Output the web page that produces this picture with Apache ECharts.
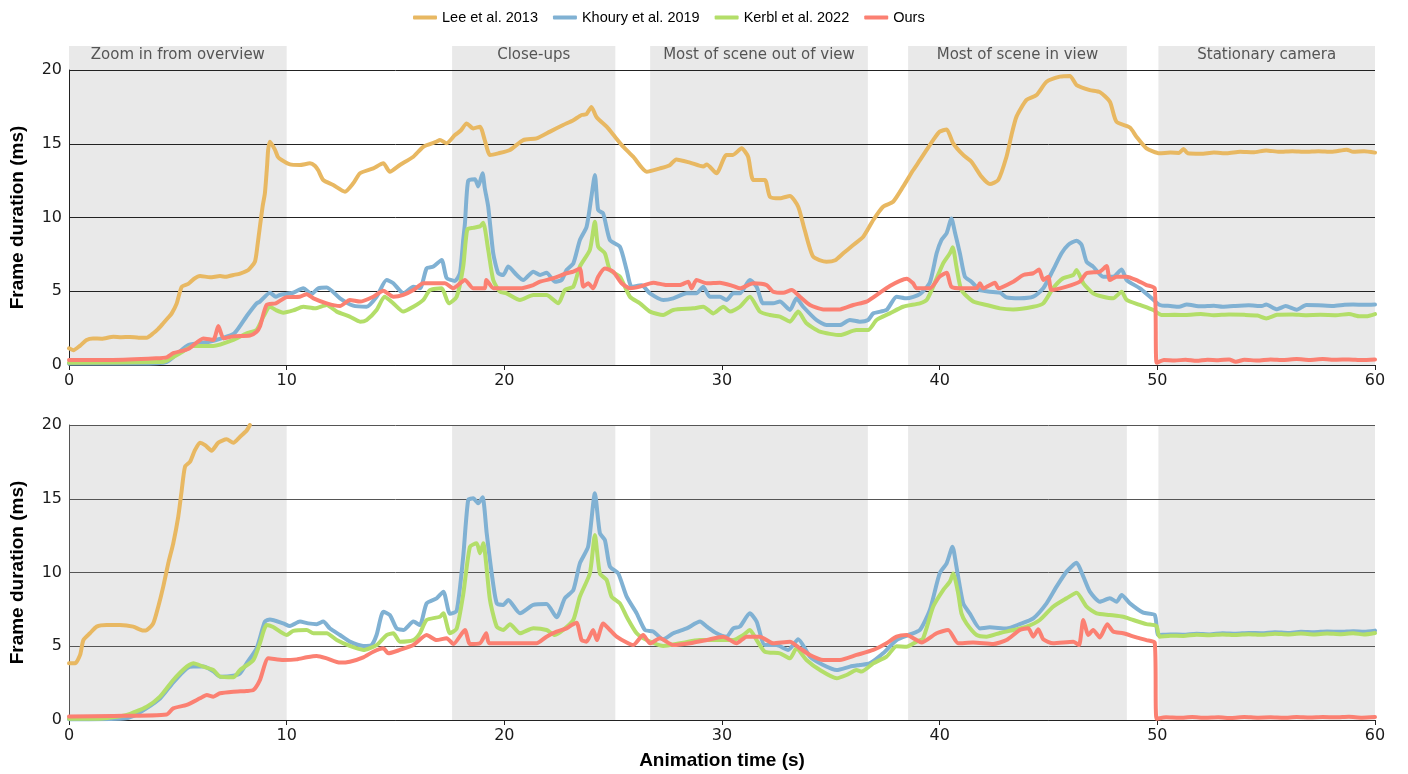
<!DOCTYPE html>
<html><head><meta charset="utf-8">
<script src="https://cdn.jsdelivr.net/npm/echarts@6/dist/echarts.min.js"></script>
<style>html,body{margin:0;padding:0;background:#fff}#c{width:1408px;height:774px}</style>
</head><body><div id="c"></div>
<script>
const seriesNames = ['Lee et al. 2013', 'Khoury et al. 2019', 'Kerbl et al. 2022', 'Ours'];
const seriesColors = ['#e8b862', '#80b1d3', '#b3de69', '#fb8072'];

const regionStarts = [0, 17.6, 26.7, 38.55, 50.05];
const regionEnds = [10, 25.1, 36.7, 48.6, 60];
const regionLabels = ['Zoom in from overview', 'Close-ups', 'Most of scene out of view', 'Most of scene in view', 'Stationary camera'];

const xTicks = [0, 10, 20, 30, 40, 50, 60];
const yTicks = [0, 5, 10, 15, 20];

// ---------- Top panel ----------
const leeTop = [[0,1.13],[0.2,1.0],[0.5,1.3],[0.81,1.7],[1.1,1.8],[1.5,1.78],[2.04,1.92],[2.4,1.88],[2.8,1.9],[3.2,1.85],[3.57,1.85],[3.87,2.15],[4.1,2.45],[4.33,2.83],[4.55,3.2],[4.72,3.5],[4.95,4.18],[5.18,5.3],[5.48,5.5],[5.75,5.85],[6.02,6.03],[6.48,5.95],[6.94,6.03],[7.2,5.98],[7.55,6.1],[7.86,6.2],[8.24,6.44],[8.54,7.0],[8.65,8.0],[8.77,9.38],[8.9,10.8],[9.0,11.64],[9.1,13.5],[9.15,14.6],[9.23,15.14],[9.46,14.6],[9.6,14.1],[9.77,13.9],[10.15,13.6],[10.6,13.56],[11.07,13.67],[11.3,13.5],[11.45,13.2],[11.68,12.54],[12.14,12.2],[12.68,11.75],[13.06,12.32],[13.37,13.0],[13.98,13.33],[14.44,13.67],[14.74,13.1],[15.2,13.56],[15.82,14.12],[16.28,14.8],[16.89,15.14],[17.04,15.25],[17.35,15.03],[17.73,15.59],[18.0,15.9],[18.27,16.38],[18.57,16.04],[18.88,16.16],[19.1,15.25],[19.34,14.24],[19.72,14.35],[20.26,14.58],[20.87,15.25],[21.48,15.36],[22.1,15.82],[22.7,16.27],[23.17,16.6],[23.55,16.95],[23.77,17.0],[24.0,17.5],[24.24,16.8],[24.7,16.16],[25.08,15.48],[25.46,14.8],[25.92,14.12],[26.54,13.1],[27.15,13.33],[27.6,13.55],[27.9,13.94],[28.53,13.72],[29.14,13.45],[29.3,13.6],[29.75,13.0],[30.2,14.24],[30.5,14.24],[30.9,14.69],[31.2,14.12],[31.44,12.54],[31.97,12.54],[32.2,11.41],[32.66,11.3],[33.12,11.46],[33.5,10.73],[33.8,9.15],[34.19,7.34],[34.8,7.0],[35.2,7.1],[35.57,7.57],[36.0,8.1],[36.49,8.7],[36.95,9.83],[37.4,10.73],[37.86,11.07],[38.32,12.09],[38.78,13.2],[39.1,13.9],[39.4,14.58],[39.7,15.25],[40.0,15.82],[40.32,15.97],[40.62,15.03],[41.08,14.24],[41.46,13.78],[41.92,12.77],[42.31,12.27],[42.69,12.54],[43.07,14.12],[43.3,15.6],[43.53,16.84],[43.99,17.97],[44.45,18.3],[44.91,19.2],[45.52,19.55],[45.98,19.6],[46.29,18.98],[46.9,18.64],[47.36,18.5],[47.82,17.85],[48.12,16.5],[48.74,16.1],[49.04,15.48],[49.5,14.69],[50.1,14.35],[50.6,14.4],[51.0,14.38],[51.2,14.65],[51.4,14.35],[52.0,14.32],[52.6,14.4],[53.2,14.35],[53.8,14.45],[54.4,14.42],[55.0,14.55],[55.6,14.45],[56.2,14.5],[56.8,14.45],[57.4,14.5],[58.0,14.45],[58.7,14.6],[59.0,14.45],[59.5,14.5],[60,14.4]];

const khouryTop = [[0,0.1],[2,0.1],[4,0.12],[4.49,0.2],[5.0,0.8],[5.5,1.36],[6.45,1.58],[7.0,1.8],[7.6,2.15],[8.2,3.39],[8.62,4.18],[8.77,4.3],[9.23,4.9],[9.5,4.63],[9.69,4.75],[10.3,4.9],[10.76,5.2],[11.15,4.82],[11.45,5.2],[11.84,5.26],[12.45,4.52],[13.06,4.02],[13.67,3.95],[14.13,4.63],[14.59,5.76],[14.9,5.54],[15.36,4.86],[15.82,5.31],[16.13,5.2],[16.43,6.55],[16.74,6.67],[17.12,7.12],[17.35,5.9],[17.73,5.7],[17.96,6.22],[18.11,8.47],[18.19,9.6],[18.34,12.5],[18.65,12.6],[18.8,12.1],[19.0,13.0],[19.1,12.0],[19.26,10.73],[19.49,7.57],[19.72,6.22],[19.95,6.1],[20.18,6.67],[20.57,6.1],[20.87,5.76],[21.33,6.33],[21.64,6.1],[21.94,6.26],[22.32,5.65],[22.63,5.76],[22.86,6.44],[23.17,6.89],[23.47,8.47],[23.78,9.38],[24.0,11.41],[24.16,12.88],[24.31,10.5],[24.54,10.28],[24.85,8.47],[25.31,8.02],[25.62,6.44],[25.85,5.31],[26.3,5.4],[26.69,4.86],[27.3,4.41],[27.76,4.52],[28.38,4.86],[28.83,4.86],[29.14,5.31],[29.44,4.63],[29.9,4.63],[30.21,4.41],[30.52,4.86],[30.82,4.86],[31.28,5.76],[31.59,5.31],[31.89,4.18],[32.35,4.18],[32.66,4.3],[33.12,3.73],[33.42,4.52],[33.73,3.95],[34.34,3.05],[34.8,2.71],[35.42,2.71],[35.87,3.05],[36.33,2.94],[36.71,3.05],[36.95,3.5],[37.56,3.73],[38.02,4.63],[38.48,4.52],[39.09,4.8],[39.55,5.6],[39.86,7.57],[40.08,8.47],[40.32,8.93],[40.54,9.94],[40.7,9.0],[40.93,7.57],[41.16,5.99],[41.46,5.65],[41.85,5.08],[42.3,4.97],[42.77,4.9],[43.07,4.58],[43.68,4.52],[44.3,4.63],[44.76,5.2],[45.21,6.44],[45.6,7.57],[45.9,8.14],[46.29,8.43],[46.52,8.14],[46.75,7.0],[47.05,6.67],[47.51,5.99],[47.97,5.99],[48.36,6.48],[48.59,5.76],[49.2,5.2],[49.66,4.63],[50.11,4.07],[50.6,4.0],[51.0,3.95],[51.35,4.1],[52.0,3.98],[52.6,4.02],[53.0,3.95],[53.5,4.0],[54.2,4.05],[54.8,4.0],[55.0,4.1],[55.5,3.78],[55.9,4.0],[56.4,3.75],[56.84,4.07],[57.4,4.05],[58.07,4.0],[58.6,4.08],[59.0,4.1],[59.5,4.08],[60,4.1]];

const kerblTop = [[0,0.16],[4.2,0.2],[4.49,0.3],[5.1,0.8],[5.71,1.29],[6.63,1.29],[7.55,1.7],[8.16,2.15],[8.62,2.37],[8.93,3.28],[9.23,3.95],[9.5,3.73],[9.84,3.55],[10.3,3.7],[10.76,3.95],[11.3,3.84],[11.84,4.07],[12.3,3.62],[12.9,3.28],[13.37,2.94],[13.67,3.05],[14.13,3.73],[14.5,4.63],[14.9,4.18],[15.36,3.62],[15.82,3.95],[16.28,4.41],[16.58,5.08],[17.12,5.2],[17.45,4.18],[17.81,4.63],[18.11,6.67],[18.3,9.2],[18.57,9.3],[18.88,9.4],[19.03,9.65],[19.26,7.8],[19.49,5.76],[19.8,4.97],[20.1,4.86],[20.72,4.41],[21.33,4.75],[21.94,4.75],[22.48,4.18],[22.78,5.08],[23.17,5.31],[23.47,6.67],[23.93,7.8],[24.16,9.72],[24.31,8.02],[24.62,7.57],[24.85,6.44],[25.31,5.99],[25.77,4.63],[26.23,4.18],[26.69,3.62],[27.3,3.39],[27.76,3.73],[28.68,3.84],[29.14,3.95],[29.6,3.5],[30.06,3.95],[30.37,3.62],[30.82,3.95],[31.28,4.63],[31.74,3.62],[32.2,3.39],[32.66,3.28],[33.12,2.94],[33.5,3.62],[33.88,2.83],[34.5,2.26],[35.42,2.03],[36.17,2.37],[36.71,2.37],[37.1,3.05],[37.71,3.5],[38.32,3.95],[39.09,4.18],[39.4,4.4],[39.7,5.31],[40.16,6.89],[40.47,7.57],[40.6,7.98],[40.77,6.67],[41.0,5.08],[41.54,4.3],[42.15,4.07],[42.77,3.84],[43.38,3.77],[44.3,3.95],[44.76,4.18],[45.21,5.2],[45.67,5.88],[46.14,6.1],[46.29,6.44],[46.6,5.54],[47.05,4.86],[47.51,4.63],[47.97,4.52],[48.36,4.97],[48.59,4.41],[49.2,4.07],[49.81,3.73],[50.19,3.39],[50.8,3.4],[51.3,3.39],[52.0,3.45],[52.6,3.38],[53.3,3.42],[54.0,3.4],[54.6,3.35],[55.0,3.16],[55.5,3.4],[56.2,3.42],[56.8,3.38],[57.5,3.4],[58.2,3.38],[58.8,3.45],[59.3,3.3],[59.6,3.3],[60,3.45]];

const oursTop = [[0,0.34],[2,0.34],[4.0,0.45],[4.49,0.52],[4.79,0.8],[5.5,1.1],[6.17,1.8],[6.63,1.7],[6.86,2.64],[7.1,1.8],[7.55,1.94],[8.31,2.0],[8.62,2.26],[8.77,2.6],[9.08,4.07],[9.5,4.18],[10.0,4.6],[10.6,4.63],[10.92,4.8],[11.23,4.52],[11.84,4.18],[12.45,4.0],[12.9,4.41],[13.37,4.3],[13.98,4.63],[14.44,5.04],[14.9,4.63],[15.36,4.75],[15.82,5.08],[16.28,5.54],[16.74,5.54],[17.27,5.54],[17.65,5.2],[18.19,5.76],[18.57,5.2],[19.1,5.2],[19.17,5.76],[19.5,5.2],[20.1,5.2],[20.72,5.2],[21.33,5.42],[21.64,5.65],[22.25,5.88],[22.86,6.22],[23.17,6.33],[23.47,6.55],[23.63,5.31],[23.85,5.54],[24.08,5.2],[24.31,5.99],[24.62,6.55],[25.0,6.33],[25.39,5.54],[25.77,5.2],[26.23,5.31],[26.84,5.58],[27.46,5.42],[28.07,5.42],[28.45,5.65],[28.6,5.2],[28.83,5.76],[29.3,5.54],[29.9,5.58],[30.52,5.35],[30.82,5.2],[31.44,5.54],[32.05,5.42],[32.35,4.97],[32.81,4.9],[33.2,5.08],[33.58,4.63],[34.04,4.07],[34.65,3.77],[35.42,3.77],[36.03,4.07],[36.64,4.3],[37.25,4.9],[37.71,5.35],[38.17,5.7],[38.48,5.85],[38.78,5.54],[38.94,5.2],[39.55,5.2],[40.0,5.99],[40.32,6.26],[40.54,5.31],[41.08,5.2],[41.7,5.2],[41.85,5.54],[42.0,5.2],[42.54,5.58],[42.7,5.2],[43.38,5.65],[43.84,6.1],[44.3,6.22],[44.57,6.48],[44.76,5.76],[44.99,5.99],[45.14,5.08],[45.83,5.31],[46.44,5.65],[46.75,6.22],[47.36,6.33],[47.67,6.71],[47.82,5.76],[48.13,5.99],[48.59,5.99],[49.04,5.76],[49.5,5.42],[49.88,5.2],[49.97,0.15],[50.3,0.34],[50.8,0.3],[51.3,0.36],[51.8,0.28],[52.3,0.35],[52.8,0.32],[53.3,0.38],[53.6,0.22],[54.0,0.36],[54.6,0.3],[55.2,0.38],[55.8,0.34],[56.4,0.4],[57.0,0.34],[57.6,0.4],[58.2,0.36],[58.8,0.38],[59.4,0.34],[60,0.38]];

// ---------- Bottom panel ----------
const leeBottom = [[0,3.84],[0.28,3.84],[0.51,4.41],[0.66,5.42],[0.96,5.88],[1.27,6.33],[1.73,6.44],[2.34,6.44],[2.95,6.33],[3.41,6.06],[3.57,6.1],[3.87,6.55],[4.1,7.68],[4.33,9.04],[4.56,10.62],[4.79,11.98],[5.02,13.79],[5.17,15.48],[5.33,17.17],[5.56,17.51],[5.79,18.31],[6.02,18.8],[6.25,18.64],[6.55,18.26],[6.86,18.8],[7.24,19.03],[7.55,18.8],[7.86,19.21],[8.16,19.62],[8.31,20]];

const khouryBottom = [[0,0.05],[2.5,0.1],[3.0,0.3],[3.57,0.8],[4.18,1.45],[4.79,2.55],[5.41,3.5],[5.71,3.62],[6.17,3.62],[6.63,3.3],[6.94,2.94],[7.55,3.0],[7.86,3.16],[8.16,3.84],[8.62,4.86],[9.0,6.67],[9.23,6.82],[9.84,6.55],[10.15,6.37],[10.61,6.67],[10.99,6.55],[11.38,6.5],[11.68,6.67],[11.99,6.2],[12.45,5.76],[12.9,5.31],[13.52,5.02],[13.9,5.08],[14.13,5.76],[14.44,7.34],[14.74,7.12],[15.05,6.21],[15.36,6.1],[15.82,6.67],[16.12,6.44],[16.43,7.91],[16.89,8.25],[17.2,8.7],[17.5,7.2],[17.81,7.4],[18.11,11.07],[18.34,14.92],[18.57,15.03],[18.8,14.69],[19.0,15.1],[19.19,12.66],[19.42,9.94],[19.65,7.91],[19.95,7.8],[20.18,8.14],[20.72,7.23],[21.33,7.8],[21.94,7.86],[22.4,6.96],[22.78,8.25],[23.17,8.81],[23.47,10.62],[23.85,11.75],[24.16,15.37],[24.39,12.66],[24.62,12.2],[24.85,10.4],[25.23,9.94],[25.62,8.36],[26.08,7.23],[26.46,6.1],[26.84,6.0],[27.3,5.47],[27.76,5.88],[28.38,6.21],[28.99,6.67],[29.3,6.33],[29.75,5.88],[30.21,5.65],[30.52,6.21],[30.82,6.33],[31.28,7.23],[31.59,6.67],[31.97,5.08],[32.5,5.08],[33.04,4.75],[33.5,5.47],[34.04,4.3],[34.65,3.73],[35.27,3.39],[35.88,3.62],[36.33,3.73],[36.79,3.84],[37.4,4.52],[38.02,5.42],[38.63,5.8],[39.09,6.1],[39.55,7.46],[40.0,9.94],[40.32,10.62],[40.59,11.75],[40.77,10.4],[41.08,7.91],[41.38,7.23],[41.85,6.21],[42.3,6.28],[43.07,6.21],[43.68,6.5],[44.3,6.89],[44.91,7.91],[45.37,9.04],[45.83,10.06],[46.29,10.66],[46.6,9.72],[46.9,8.7],[47.36,8.02],[47.82,8.25],[48.13,8.02],[48.36,8.47],[48.74,7.91],[49.35,7.28],[49.88,7.12],[50.05,5.76],[50.6,5.8],[51.2,5.78],[51.8,5.85],[52.4,5.8],[53.0,5.88],[53.6,5.85],[54.2,5.9],[54.8,5.88],[55.4,5.95],[56.0,5.9],[56.6,5.98],[57.2,5.95],[57.8,6.0],[58.4,5.98],[59.0,6.02],[59.5,5.98],[60,6.06]];

const kerblBottom = [[0,0.08],[1.54,0.1],[2.65,0.34],[3.57,0.9],[4.18,1.58],[4.79,2.71],[5.41,3.62],[5.71,3.84],[6.17,3.62],[6.63,3.39],[6.94,2.94],[7.55,2.89],[7.86,3.39],[8.47,4.07],[8.77,5.2],[9.08,6.44],[9.38,6.3],[10.0,5.76],[10.3,6.04],[10.92,6.1],[11.23,5.88],[11.84,5.88],[12.3,5.42],[12.9,5.02],[13.52,4.75],[14.13,5.08],[14.59,5.76],[14.9,5.88],[15.2,5.31],[15.82,5.42],[16.12,5.88],[16.43,6.78],[17.04,7.0],[17.2,7.23],[17.5,5.88],[17.81,6.2],[18.11,8.5],[18.42,11.75],[18.73,11.98],[18.88,11.3],[19.03,11.98],[19.34,8.14],[19.65,6.33],[19.95,6.1],[20.26,6.5],[20.72,5.88],[21.33,6.22],[21.94,6.1],[22.32,5.76],[22.7,6.1],[23.17,6.78],[23.47,8.36],[23.93,9.94],[24.16,12.54],[24.39,9.94],[24.7,9.49],[24.93,8.36],[25.31,7.91],[25.62,7.0],[26.08,5.88],[26.54,5.42],[27.3,5.02],[28.07,5.2],[28.99,5.42],[29.9,5.42],[30.52,5.42],[30.98,5.76],[31.28,6.1],[31.59,5.42],[31.97,4.63],[32.66,4.52],[33.12,4.18],[33.42,4.86],[33.88,4.07],[34.5,3.39],[35.27,2.83],[35.72,3.05],[36.18,3.39],[36.41,3.28],[36.95,3.84],[37.56,4.3],[38.02,5.0],[38.48,4.97],[38.94,5.31],[39.24,5.54],[39.7,7.68],[40.16,8.81],[40.47,9.38],[40.62,9.94],[40.85,8.59],[41.0,7.23],[41.23,6.55],[41.7,5.76],[42.15,5.65],[42.77,5.9],[43.38,6.1],[43.99,6.33],[44.6,6.78],[45.21,7.68],[45.83,8.25],[46.29,8.63],[46.75,7.68],[47.21,7.23],[47.82,7.12],[48.43,7.0],[48.89,6.78],[49.5,6.5],[49.96,6.37],[50.1,5.65],[50.6,5.72],[51.2,5.7],[51.8,5.78],[52.4,5.75],[53.0,5.8],[53.6,5.76],[54.2,5.82],[54.8,5.78],[55.4,5.85],[56.0,5.8],[56.6,5.86],[57.2,5.8],[57.8,5.86],[58.4,5.82],[59.0,5.88],[59.5,5.8],[60,5.9]];

const oursBottom = [[0,0.23],[2,0.27],[4.49,0.38],[4.79,0.79],[5.41,1.02],[6.02,1.47],[6.33,1.7],[6.63,1.58],[6.94,1.81],[7.55,1.92],[8.16,1.97],[8.47,2.03],[8.77,2.71],[9.16,4.18],[9.84,4.07],[10.46,4.11],[10.92,4.25],[11.38,4.34],[11.84,4.18],[12.45,3.89],[12.9,3.95],[13.52,4.25],[13.98,4.63],[14.44,4.86],[14.67,4.52],[15.2,4.75],[15.82,5.08],[16.43,5.76],[16.89,5.42],[17.35,5.54],[17.66,5.15],[18.19,6.1],[18.42,5.15],[18.88,5.2],[19.17,5.88],[19.3,5.2],[20.1,5.2],[21.0,5.2],[21.48,5.2],[21.94,5.65],[22.4,5.99],[22.86,6.21],[23.09,6.44],[23.32,6.6],[23.55,5.42],[23.78,5.31],[24.08,6.1],[24.25,5.42],[24.54,6.55],[24.85,6.1],[25.16,5.65],[25.62,5.25],[25.92,5.08],[26.38,5.76],[26.69,5.2],[27.15,5.54],[27.76,5.08],[28.53,5.2],[29.3,5.42],[30.06,5.65],[30.67,5.2],[31.13,5.65],[31.74,5.65],[32.35,5.2],[33.12,5.31],[33.58,4.86],[34.04,4.41],[34.65,4.07],[35.42,4.07],[36.18,4.41],[36.95,4.75],[37.56,5.2],[38.02,5.65],[38.48,5.76],[38.94,5.42],[39.16,5.25],[39.86,5.88],[40.39,6.1],[40.85,5.2],[41.54,5.25],[42.46,5.15],[43.07,5.42],[43.68,6.1],[44.07,6.22],[44.3,5.65],[44.53,6.15],[44.76,5.47],[45.21,5.2],[46.14,5.31],[46.4,5.08],[46.6,6.78],[46.83,5.76],[47.05,6.1],[47.36,5.6],[47.7,6.5],[47.97,6.0],[48.43,5.88],[49.04,5.6],[49.5,5.42],[49.88,5.25],[49.97,0.08],[50.4,0.18],[51.0,0.15],[51.6,0.2],[52.2,0.15],[52.8,0.18],[53.4,0.14],[54.0,0.2],[54.6,0.16],[55.2,0.18],[55.8,0.15],[56.4,0.2],[57.0,0.17],[57.6,0.2],[58.2,0.18],[58.8,0.22],[59.4,0.16],[60,0.2]];

const topData = [leeTop, khouryTop, kerblTop, oursTop];
const bottomData = [leeBottom, khouryBottom, kerblBottom, oursBottom];

const chart = echarts.init(document.getElementById('c'), null, {renderer: 'canvas'});

const tickFont = {fontFamily: 'DejaVu Sans', fontSize: 16, color: '#1a1a1a'};
const titleFont = {fontFamily: 'Liberation Sans', fontWeight: 'bold', fontSize: 19, color: '#000'};

function xAxisFor(idx, withName) {
  const ax = {
    type: 'value', gridIndex: idx, min: xTicks[0], max: xTicks[xTicks.length - 1],
    interval: xTicks[1] - xTicks[0], z: 1,
    axisLine: {show: true, onZero: false, lineStyle: {color: '#222', width: 1}},
    axisTick: {show: true, length: 5, lineStyle: {color: '#222', width: 1}},
    axisLabel: Object.assign({margin: 8}, tickFont),
    splitLine: {show: false}
  };
  if (withName) {
    ax.name = 'Animation time (s)';
    ax.nameLocation = 'middle';
    ax.nameGap = 31;
    ax.nameTextStyle = titleFont;
  }
  return ax;
}
function yAxisFor(idx, gridColor) {
  return {
    type: 'value', gridIndex: idx, min: yTicks[0], max: yTicks[yTicks.length - 1],
    interval: yTicks[1] - yTicks[0], z: 1,
    name: 'Frame duration (ms)', nameLocation: 'middle', nameGap: 42, nameTextStyle: titleFont,
    axisLine: {show: true, onZero: false, lineStyle: {color: gridColor, width: 1}},
    axisTick: {show: false},
    axisLabel: Object.assign({margin: 7}, tickFont),
    splitLine: {show: true, lineStyle: {color: gridColor, width: 1}}
  };
}

function regionMarks(panel) {
  return regionStarts.map((s, i) => {
    const a = panel === 0 ? {xAxis: s, y: 46, name: regionLabels[i]} : {xAxis: s, yAxis: yTicks[yTicks.length - 1]};
    return [a, {xAxis: regionEnds[i], yAxis: 0}];
  });
}

const series = [];
[0, 1].forEach(panel => {
  series.push({
    type: 'line', xAxisIndex: panel, yAxisIndex: panel, data: [], clip: false, silent: true,
    markArea: {
      silent: true, z: -1,
      itemStyle: {color: '#e9e9e9'},
      label: {show: panel === 0, position: 'insideTop', distance: 2, color: '#555',
              fontFamily: 'DejaVu Sans', fontSize: 15},
      data: regionMarks(panel)
    }
  });
  const d = panel === 0 ? topData : bottomData;
  d.forEach((arr, i) => {
    series.push({
      name: seriesNames[i], type: 'line', xAxisIndex: panel, yAxisIndex: panel,
      data: arr, showSymbol: false, symbol: 'none', smooth: 0.2,
      lineStyle: {color: seriesColors[i], width: 4, cap: 'round', join: 'round'},
      itemStyle: {color: seriesColors[i]},
      animation: false, z: 2 + i
    });
  });
});

chart.setOption({
  animation: false,
  backgroundColor: '#fff',
  legend: {
    data: seriesNames, left: 408, top: 5, itemWidth: 24, itemHeight: 4, itemGap: 15,
    icon: 'roundRect', selectedMode: false,
    textStyle: {fontFamily: 'Liberation Sans', fontSize: 14.5, color: '#000'}
  },
  grid: [
    {left: 69, right: 33, top: 70, height: 295, containLabel: false, outerBoundsMode: 'none'},
    {left: 69, right: 33, top: 425, height: 295, containLabel: false, outerBoundsMode: 'none'}
  ],
  xAxis: [xAxisFor(0, false), xAxisFor(1, true)],
  yAxis: [yAxisFor(0, '#222'), yAxisFor(1, '#555')],
  series: series
});
</script>
</body></html>
